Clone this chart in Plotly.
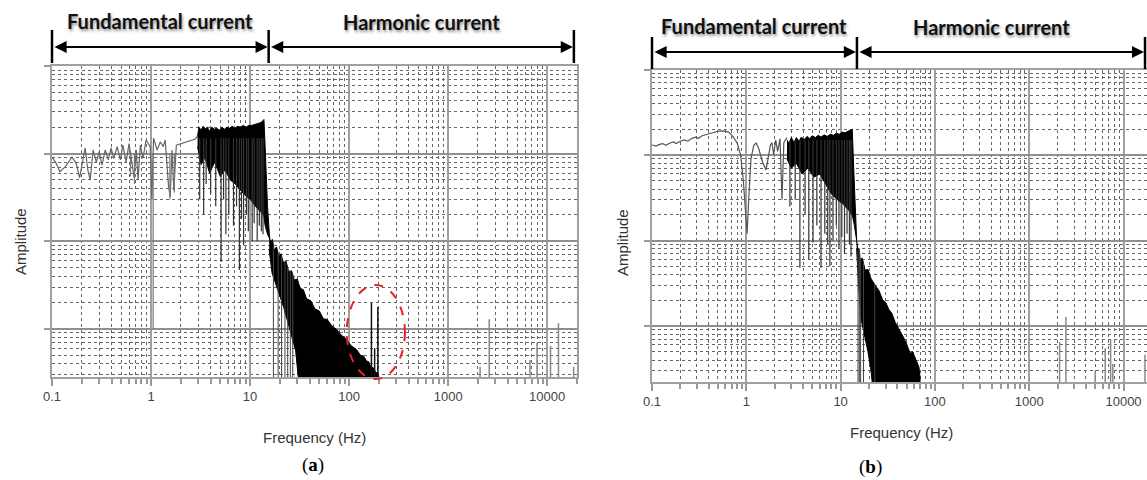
import numpy as np
import plotly.graph_objects as go

# ---------------- Panel (a) data ----------------
a_low_f = [0.1, 0.11, 0.12, 0.135, 0.159, 0.175, 0.19, 0.205, 0.216, 0.23, 0.243, 0.26, 0.28, 0.30,
           0.32, 0.345, 0.37, 0.395, 0.42, 0.455, 0.49, 0.52, 0.56, 0.60, 0.64, 0.675, 0.71, 0.74,
           0.78, 0.83, 0.89, 0.98, 1.02, 1.06, 1.15, 1.24, 1.33, 1.39, 1.50, 1.56, 1.63, 1.70, 1.80,
           1.98, 2.22, 2.49, 2.80, 2.95]
a_low_amp = [0.91, 0.78, 0.62, 0.70, 0.91, 0.78, 0.53, 0.85, 1.16, 0.65, 0.50, 1.10, 0.80, 1.05,
             0.74, 1.10, 0.85, 1.16, 0.88, 1.20, 0.85, 1.25, 0.80, 1.30, 0.74, 0.53, 1.10, 0.50,
             1.25, 0.88, 1.43, 1.20, 0.30, 1.50, 1.10, 1.36, 1.20, 1.43, 0.43, 0.32, 1.10, 0.38, 1.25,
             1.30, 1.36, 1.40, 1.47, 1.60]
a_low_spike_f = [0.62, 0.68, 1.05, 1.55, 1.72]
a_low_spike_amp = [0.55, 0.45, 0.0102, 0.30, 0.36]

a_blk_top_f = [2.95, 3.05, 3.2, 3.35, 3.5, 3.7, 3.9, 4.1, 4.35, 4.6, 4.9, 5.2, 5.5, 5.85, 6.2, 6.6,
               7.0, 7.5, 8.0, 8.5, 9.1, 9.7, 10.4, 11.1, 11.9, 12.7, 13.4, 13.8, 14.2, 14.6, 15.0, 15.6]
a_blk_top_amp = [1.6, 2.0, 1.85, 2.05, 1.9, 2.0, 1.8, 2.0, 1.9, 1.95, 1.85, 2.0, 1.9, 2.0, 1.95, 2.05,
                 1.95, 2.05, 2.0, 2.1, 2.0, 2.1, 2.1, 2.15, 2.2, 2.25, 2.35, 2.45, 1.2, 0.5, 0.25, 0.13]
a_blk_bot_f = [2.95, 3.2, 3.5, 3.9, 4.4, 5.0, 5.6, 6.3, 7.1, 8.0, 9.0, 10.1, 11.3, 12.5, 13.7, 14.2, 15.0, 15.6]
a_blk_bot_amp = [1.2, 0.75, 0.9, 0.6, 0.8, 0.55, 0.65, 0.5, 0.45, 0.38, 0.33, 0.3, 0.25, 0.22, 0.2, 0.15, 0.12, 0.11]
a_blk_spike_f = [3.1, 3.4, 3.6, 4.0, 4.5, 5.1, 5.4, 5.7, 6.1, 6.8, 7.3, 7.8, 8.2, 8.6, 9.2, 9.6,
                 10.5, 11.0, 11.8, 12.4, 13.0, 13.5]
a_blk_spike_amp = [0.3, 0.2, 0.45, 0.35, 0.25, 0.058, 0.3, 0.12, 0.2, 0.15, 0.25, 0.047, 0.18, 0.09,
                   0.2, 0.13, 0.1, 0.16, 0.1, 0.15, 0.13, 0.12]

a_tail_top_f = [15.6, 16.1, 16.8, 17.5, 18.5, 19.5, 20.5, 21.8, 23, 24.5, 26.2, 28, 30, 32, 34.5, 37.2,
                41, 45, 50, 55, 60, 67, 75, 83, 92, 105, 119, 130, 140, 150, 158, 165, 175, 185, 195, 200]
a_tail_top_amp = [0.12, 0.095, 0.105, 0.08, 0.086, 0.068, 0.072, 0.056, 0.06, 0.045, 0.046, 0.036,
                  0.037, 0.029, 0.028, 0.022, 0.021, 0.017, 0.016, 0.013, 0.0128, 0.0108, 0.0098,
                  0.0085, 0.0078, 0.0064, 0.0058, 0.005, 0.0049, 0.0043, 0.0042, 0.0037, 0.0036,
                  0.0032, 0.0031, 0.0028]
a_tail_bot_f = [15.6, 16.7, 19.0, 21.8, 25.0, 28.8, 31.6, 200]
a_tail_bot_amp = [0.08, 0.043, 0.028, 0.0177, 0.01, 0.0057, 0.002, 0.002]
a_tail_spike_f = [17.2, 19.2, 20.8, 22.5, 24.0, 25.5, 27.0]
a_circle_spike_f = [168, 181, 195]
a_circle_spike_amp = [0.0197, 0.006, 0.0177]
a_harm_f = [2100, 2600, 6700, 7900, 10800, 13000, 18500]
a_harm_amp = [0.0037, 0.0129, 0.0044, 0.0069, 0.0064, 0.0116, 0.0037]

# ---------------- Panel (b) data ----------------
b_low_f = [0.1, 0.11, 0.12, 0.13, 0.14, 0.155, 0.17, 0.18, 0.2, 0.22, 0.24, 0.26, 0.29, 0.31, 0.34,
           0.38, 0.42, 0.47, 0.52, 0.57, 0.65, 0.72, 0.80, 0.87, 0.93, 0.98, 1.02, 1.06, 1.12, 1.2,
           1.27, 1.35, 1.5, 1.62, 1.7, 1.8, 1.87, 1.95, 2.05, 2.15, 2.28, 2.39, 2.5, 2.7]
b_low_amp = [1.31, 1.27, 1.33, 1.36, 1.30, 1.38, 1.42, 1.36, 1.45, 1.50, 1.45, 1.55, 1.62, 1.57, 1.68,
             1.75, 1.80, 1.86, 1.90, 1.91, 1.85, 1.65, 1.38, 1.0, 0.5, 0.2, 0.12, 0.3, 0.9, 1.30,
             1.38, 1.2, 0.8, 0.67, 0.9, 1.3, 1.4, 1.0, 1.5, 1.1, 1.55, 0.3, 1.4, 1.6]

b_blk_top_f = [2.7, 2.85, 3.0, 3.2, 3.4, 3.6, 3.85, 4.1, 4.4, 4.7, 5.0, 5.4, 5.8, 6.2, 6.7, 7.2, 7.8,
               8.4, 9.0, 9.7, 10.4, 11.2, 12.0, 12.8, 13.3, 13.6, 14.0, 14.4, 14.8]
b_blk_top_amp = [1.5, 1.35, 1.6, 1.4, 1.6, 1.45, 1.62, 1.5, 1.65, 1.55, 1.68, 1.6, 1.7, 1.62, 1.72,
                 1.65, 1.75, 1.7, 1.8, 1.75, 1.85, 1.82, 1.9, 1.95, 2.0, 1.0, 0.4, 0.2, 0.1]
b_blk_bot_f = [2.7, 3.0, 3.4, 3.9, 4.5, 5.2, 6.0, 7.0, 8.0, 9.2, 10.5, 12.0, 13.3, 14.0, 14.8]
b_blk_bot_amp = [0.9, 0.7, 0.8, 0.6, 0.7, 0.55, 0.6, 0.45, 0.35, 0.3, 0.27, 0.23, 0.2, 0.15, 0.1]
b_blk_spike_f = [2.9, 3.3, 3.7, 4.2, 4.6, 5.1, 5.6, 6.2, 6.8, 7.3, 7.7, 8.3, 9.0, 9.6, 10.3, 11.0,
                 11.7, 12.4, 12.9]
b_blk_spike_amp = [0.25, 0.3, 0.048, 0.2, 0.06, 0.095, 0.15, 0.048, 0.12, 0.09, 0.05, 0.1, 0.15,
                   0.08, 0.11, 0.07, 0.12, 0.09, 0.065]

b_tail_top_f = [14.8, 15.3, 15.8, 16.1, 17, 18.2, 19.5, 21, 23.2, 25.5, 28, 30, 32.6, 35, 38, 42.7,
                47, 50, 54.5, 58, 62, 67.8, 69.5, 70]
b_tail_top_amp = [0.1, 0.077, 0.08, 0.06, 0.062, 0.045, 0.046, 0.036, 0.03, 0.026, 0.02, 0.019,
                  0.0155, 0.014, 0.011, 0.0088, 0.0072, 0.0062, 0.0048, 0.005, 0.0042, 0.0033,
                  0.0025, 0.0015]
b_tail_bot_f = [14.8, 15.5, 16.5, 18.0, 19.5, 21.0, 22.5, 70]
b_tail_bot_amp = [0.08, 0.03, 0.012, 0.0075, 0.005, 0.003, 0.0015, 0.0015]
b_tail_spike_f = [15.3, 15.8, 16.3, 17.5, 23.0]
b_harm_f = [2100, 2450, 5000, 6400, 7300, 7700, 16900]
b_harm_amp = [0.0065, 0.0127, 0.0029, 0.0055, 0.0069, 0.0036, 0.0046]

# axis labels
freq_ticks = [0.1, 1, 10, 100, 1000, 10000]
freq_labels = ["0.1", "1", "10", "100", "1000", "10000"]
boundary_a, boundary_b = 15.4, 14.9
end_a, end_b = 18600, 16900
FLOOR = 0.0005

# ---------------- layout geometry ----------------
W, H = 1147, 480
xa_dom, xa_rng = [52 / W, 577 / W], [-1, np.log10(20000)]
ya_dom, ya_rng = [1 - 377 / H, 1 - 66 / H], [-2.55, 1]
xb_dom, xb_rng = [652 / W, 1.0], [-1, 4.249]
yb_dom, yb_rng = [1 - 382 / H, 1 - 69.5 / H], [-2.655, 1]


def xpaper(f, dom, rng):
    return dom[0] + (np.log10(f) - rng[0]) / (rng[1] - rng[0]) * (dom[1] - dom[0])


def ypaper(v, dom, rng):
    return dom[0] + (np.log10(v) - rng[0]) / (rng[1] - rng[0]) * (dom[1] - dom[0])


def spikes(fs, tops, bottoms):
    xs, ys = [], []
    for f, t, b in zip(fs, tops, bottoms):
        xs += [f, f, None]
        ys += [t, b, None]
    return xs, ys


fig = go.Figure()


def add_panel(xr, yr, low_f, low_amp, top_f, top_amp, bot_f, bot_amp, sp_f, sp_amp,
              tt_f, tt_amp, tb_f, tb_amp, tail_sp_f, harm_f, harm_amp, low_color):
    fig.add_trace(go.Scatter(x=low_f, y=low_amp, mode="lines", xaxis=xr, yaxis=yr,
                             line=dict(color=low_color, width=1.2)))
    fig.add_trace(go.Scatter(x=list(top_f) + list(bot_f)[::-1], y=list(top_amp) + list(bot_amp)[::-1],
                             mode="lines", fill="toself", fillcolor="#000", xaxis=xr, yaxis=yr,
                             line=dict(color="#000", width=1)))
    sx, sy = spikes(sp_f, [1.5] * len(sp_f), sp_amp)
    fig.add_trace(go.Scatter(x=sx, y=sy, mode="lines", xaxis=xr, yaxis=yr,
                             line=dict(color="#333", width=1.2)))
    fig.add_trace(go.Scatter(x=list(tt_f) + list(tb_f)[::-1], y=list(tt_amp) + list(tb_amp)[::-1],
                             mode="lines", fill="toself", fillcolor="#000", xaxis=xr, yaxis=yr,
                             line=dict(color="#000", width=1)))
    top_interp = np.interp(np.log10(tail_sp_f), np.log10(tt_f), tt_amp)
    sx, sy = spikes(tail_sp_f, list(top_interp), [FLOOR] * len(tail_sp_f))
    fig.add_trace(go.Scatter(x=sx, y=sy, mode="lines", xaxis=xr, yaxis=yr,
                             line=dict(color="#444", width=1)))
    sx, sy = spikes(harm_f, harm_amp, [FLOOR] * len(harm_f))
    fig.add_trace(go.Scatter(x=sx, y=sy, mode="lines", xaxis=xr, yaxis=yr,
                             line=dict(color="#888", width=1.5)))


add_panel("x", "y", a_low_f, a_low_amp, a_blk_top_f, a_blk_top_amp, a_blk_bot_f, a_blk_bot_amp,
          a_blk_spike_f, a_blk_spike_amp, a_tail_top_f, a_tail_top_amp, a_tail_bot_f, a_tail_bot_amp,
          a_tail_spike_f, a_harm_f, a_harm_amp, "#666")
sx, sy = spikes(a_low_spike_f, [1.0] * len(a_low_spike_f), a_low_spike_amp)
fig.add_trace(go.Scatter(x=sx, y=sy, mode="lines", xaxis="x", yaxis="y", line=dict(color="#777", width=1.2)))
sx, sy = spikes(a_circle_spike_f, a_circle_spike_amp, [FLOOR] * len(a_circle_spike_f))
fig.add_trace(go.Scatter(x=sx, y=sy, mode="lines", xaxis="x", yaxis="y", line=dict(color="#111", width=1.5)))

add_panel("x2", "y2", b_low_f, b_low_amp, b_blk_top_f, b_blk_top_amp, b_blk_bot_f, b_blk_bot_amp,
          b_blk_spike_f, b_blk_spike_amp, b_tail_top_f, b_tail_top_amp, b_tail_bot_f, b_tail_bot_amp,
          b_tail_spike_f, b_harm_f, b_harm_amp, "#555")

minor_x = [k * 10.0 ** n for n in range(-1, 5) for k in range(2, 10)]
minor_y = [k * 10.0 ** n for n in range(-4, 1) for k in range(2, 10)]


def xaxis_cfg(dom, rng, anchor):
    return dict(type="log", domain=dom, range=rng, anchor=anchor, automargin=False,
                tickvals=freq_ticks, ticktext=freq_labels,
                ticks="outside", ticklen=7, tickcolor="#999", tickwidth=1.5,
                tickfont=dict(family="Liberation Sans, Arial", size=13, color="#444"),
                showgrid=True, gridcolor="#a0a0a0", gridwidth=1.5,
                showline=True, linecolor="#a0a0a0", linewidth=1.5, mirror=True, zeroline=False,
                minor=dict(tickvals=minor_x, ticks="outside", ticklen=5, tickcolor="#999",
                           showgrid=True, gridcolor="#666", griddash="dot", gridwidth=1))


def yaxis_cfg(dom, rng, anchor):
    return dict(type="log", domain=dom, range=rng, anchor=anchor, automargin=False,
                tickvals=[0.001, 0.01, 0.1, 1, 10],
                showticklabels=False, ticks="outside", ticklen=6, tickcolor="#999", tickwidth=1.5,
                showgrid=True, gridcolor="#909090", gridwidth=1.8,
                showline=True, linecolor="#a0a0a0", linewidth=1.5, mirror=True, zeroline=False,
                minor=dict(tickvals=minor_y, showgrid=True, gridcolor="#666", griddash="dot", gridwidth=1))


shadow = "1px 2px 3px rgba(0,0,0,0.45)"
title_font = dict(family="Lato, Open Sans", size=20, color="#111", weight="bold", shadow=shadow)
lab_font = dict(family="Liberation Sans, Arial", size=15, color="#333")


def note(x, y, text, font, **kw):
    return dict(x=x, y=y, xref="paper", yref="paper", showarrow=False, text=text, font=font,
                xanchor="center", yanchor="middle", **kw)


annotations = []
shapes = []
for (xr, xdom, xrng, f0, fb, f1, yt, ya, ybar0, ybar1, xfreq, ytitle, xlet, ylab, yamp, xamp, letter) in [
    ("x", xa_dom, xa_rng, 0.1, boundary_a, end_a, 21, 47, 30, 63, 314, 437, 313, 465, 242, 20, "a"),
    ("x2", xb_dom, xb_rng, 0.1, boundary_b, end_b, 26, 52, 37, 69, 901, 432, 870, 467, 243, 622, "b"),
]:
    px0, pxb, px1 = (xpaper(v, xdom, xrng) for v in (f0, fb, f1))
    annotations.append(note((px0 + pxb) / 2, 1 - yt / H, "Fundamental current", title_font))
    annotations.append(note((pxb + min(px1, 0.99)) / 2 - (0.0 if xr == "x" else 0.004), 1 - (yt + 1) / H,
                            "Harmonic current", title_font))
    for a0, a1 in [(f0, fb), (fb, f1)]:
        annotations.append(dict(x=np.log10(a1), y=1 - ya / H, xref=xr, yref="paper",
                                ax=np.log10(a0), ay=0, axref=xr, ayref="pixel", text="",
                                showarrow=True, arrowhead=2, arrowside="end+start",
                                arrowsize=1.1, arrowwidth=2.2, arrowcolor="#000", standoff=1, startstandoff=1))
    for pxv in (px0, pxb, px1):
        shapes.append(dict(type="line", xref="paper", yref="paper", x0=pxv, x1=pxv,
                           y0=1 - ybar1 / H, y1=1 - ybar0 / H, line=dict(color="#000", width=2.5)))
    annotations.append(note(xfreq / W, 1 - ytitle / H, "Frequency (Hz)", lab_font))
    annotations.append(note(xlet / W, 1 - ylab / H, f"(<b>{letter}</b>)",
                            dict(family="Liberation Serif, Times New Roman", size=19, color="#000")))
    annotations.append(note(xamp / W, 1 - yamp / H, "Amplitude", lab_font, textangle=-90))

# red dashed ellipse around the ~170-200 Hz components of panel (a)
shapes.append(dict(type="circle", xref="paper", yref="paper",
                   x0=xpaper(94.6, xa_dom, xa_rng), x1=xpaper(366, xa_dom, xa_rng),
                   y0=ypaper(0.00267, ya_dom, ya_rng), y1=ypaper(0.0316, ya_dom, ya_rng),
                   line=dict(color="#e8202a", width=2, dash="dash")))

fig.update_layout(
    width=W, height=H, margin=dict(l=0, r=0, t=0, b=0),
    paper_bgcolor="white", plot_bgcolor="white", showlegend=False,
    xaxis=xaxis_cfg(xa_dom, xa_rng, "y"), yaxis=yaxis_cfg(ya_dom, ya_rng, "x"),
    xaxis2=xaxis_cfg(xb_dom, xb_rng, "y2"), yaxis2=yaxis_cfg(yb_dom, yb_rng, "x2"),
    annotations=annotations, shapes=shapes,
)

fig.write_html("out.html")
